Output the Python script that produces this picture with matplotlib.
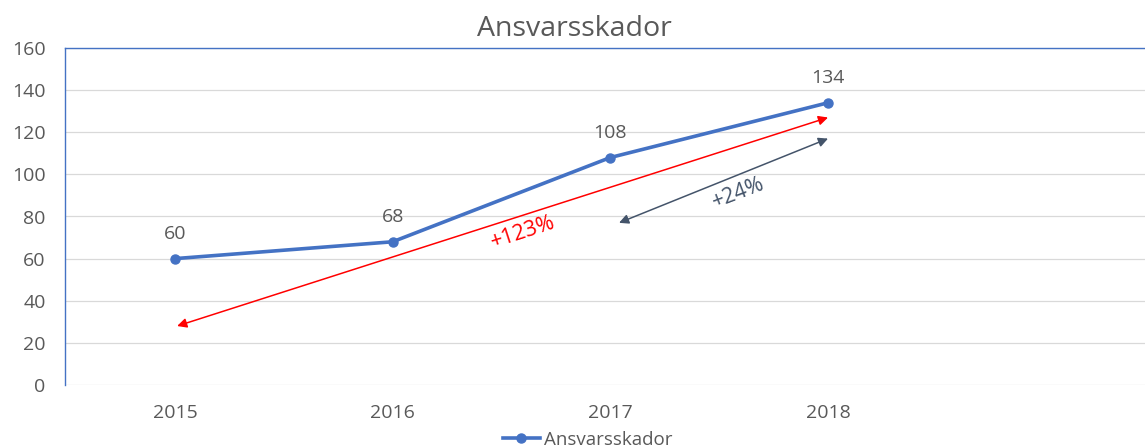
import numpy as np
import matplotlib.pyplot as plt

#### Data ####
YEARS = ['2015', '2016', '2017', '2018', '']
VALUES = [60, 68, 108, 134]
SERIES_NAME = 'Ansvarsskador'
TITLE = 'Ansvarsskador'

# growth arrows: (start year idx, start value, end year idx, end value, label)
ARROW_TOTAL = (0.01, 28, 3.0, 127, '+123%')
ARROW_LAST = (2.04, 77, 3.0, 117, '+24%')

#### Style ####
BLUE = '#4472C4'
GREY_TXT = '#595959'
GRID = '#D9D9D9'
SLATE = '#44546A'
plt.rcParams['font.family'] = ['Open Sans', 'DejaVu Sans']

fig = plt.figure(figsize=(11.45, 4.48), dpi=100)
ax = fig.add_axes([65/1145, 1-385/448, 1-65/1145, (385-48)/448])

x = np.arange(len(VALUES))
ax.plot(x, VALUES, color=BLUE, lw=2.6, marker='o', ms=6.5, label=SERIES_NAME,
        zorder=3)
for xi, v in zip(x, VALUES):
    ax.annotate(str(v), (xi, v), xytext=(0, 18), textcoords='offset points',
                ha='center', va='center', fontsize=14, color=GREY_TXT)

ax.set_xlim(-0.505, 4.456)
ax.set_ylim(0, 160)
ax.set_yticks(np.arange(0, 161, 20))
ax.set_xticks(np.arange(len(YEARS)))
ax.set_xticklabels(YEARS)
ax.tick_params(length=0, colors=GREY_TXT, labelsize=14)
ax.tick_params(axis='y', pad=14)
ax.tick_params(axis='x', pad=14)
ax.grid(axis='y', color=GRID, lw=0.9)
ax.set_axisbelow(True)
for side in ['bottom', 'right']:
    ax.spines[side].set_visible(False)
for side in ['left', 'top']:
    ax.spines[side].set_color(BLUE)
    ax.spines[side].set_linewidth(1.0)

# red arrow + label
x0, y0, x1, y1, lab = ARROW_TOTAL
ax.annotate('', xy=(x1, y1), xytext=(x0, y0),
            arrowprops=dict(arrowstyle='<|-|>', color='red', lw=1.1,
                            mutation_scale=14, shrinkA=0, shrinkB=0))
ax.text(1.6, 72.5, lab, color='red', fontsize=15.5, rotation=18,
        ha='center', va='center')

# slate arrow + label
x0, y0, x1, y1, lab = ARROW_LAST
ax.annotate('', xy=(x1, y1), xytext=(x0, y0),
            arrowprops=dict(arrowstyle='<|-|>', color=SLATE, lw=1.1,
                            mutation_scale=14, shrinkA=0, shrinkB=0))
ax.text(2.59, 91, lab, color=SLATE, fontsize=15.5, rotation=21,
        ha='center', va='center')

fig.text(0.502, 0.935, TITLE, ha='center', va='center', fontsize=20.5,
         color=GREY_TXT)
fig.legend(loc='center', bbox_to_anchor=(0.513, 0.018), frameon=False,
           fontsize=13.5, labelcolor=GREY_TXT, handlelength=2.0,
           handletextpad=0.2, borderaxespad=0)

fig.savefig('out.png', dpi=100)
